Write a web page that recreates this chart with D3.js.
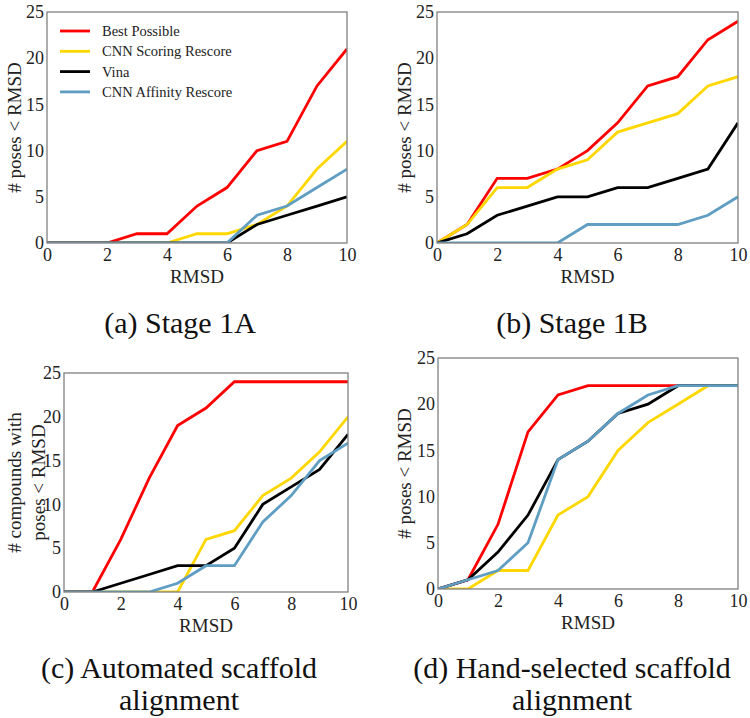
<!DOCTYPE html>
<html><head><meta charset="utf-8">
<script src="https://cdn.jsdelivr.net/npm/d3@7"></script>
<style>body{margin:0;background:#fff;font-family:'Liberation Serif',serif}svg{display:block}svg text{font-family:'Liberation Serif',serif !important}</style>
</head><body>
<svg id="c" width="750" height="718" font-family="Liberation Serif"></svg>
<script>
const rmsd = [0,1,2,3,4,5,6,7,8,9,10];
const seriesNames = ["Best Possible","CNN Scoring Rescore","Vina","CNN Affinity Rescore"];
const seriesColors = ["#ff0000","#ffd700","#000000","#5f9ec2"];
const xTicks = [0,2,4,6,8,10];
const yTicks = [0,5,10,15,20,25];

// Panel (a) Stage 1A
const a_best     = [0,0,0,1,1,4,6,10,11,17,21];
const a_scoring  = [0,0,0,0,0,1,1,2,4,8,11];
const a_vina     = [0,0,0,0,0,0,0,2,3,4,5];
const a_affinity = [0,0,0,0,0,0,0,3,4,6,8];
// Panel (b) Stage 1B
const b_best     = [0,2,7,7,8,10,13,17,18,22,24];
const b_scoring  = [0,2,6,6,8,9,12,13,14,17,18];
const b_vina     = [0,1,3,4,5,5,6,6,7,8,13];
const b_affinity = [0,0,0,0,0,2,2,2,2,3,5];
// Panel (c) Automated scaffold alignment
const c_best     = [0,0,6,13,19,21,24,24,24,24,24];
const c_scoring  = [0,0,0,0,0,6,7,11,13,16,20];
const c_vina     = [0,0,1,2,3,3,5,10,12,14,18];
const c_affinity = [0,0,0,0,1,3,3,8,11,15,17];
// Panel (d) Hand-selected scaffold alignment
const d_best     = [0,1,7,17,21,22,22,22,22,22,22];
const d_scoring  = [0,0,2,2,8,10,15,18,20,22,22];
const d_vina     = [0,1,4,8,14,16,19,20,22,22,22];
const d_affinity = [0,1,2,5,14,16,19,21,22,22,22];

const FONT = "Liberation Serif";

const panels = [
  {box:[47,12,347,243], series:[a_best,a_scoring,a_vina,a_affinity], ylab:["# poses < RMSD"], ylabX:[14], legend:true,
   caption:["(a) Stage 1A"], capX:180, capY:[333]},
  {box:[437,12,738,243], series:[b_best,b_scoring,b_vina,b_affinity], ylab:["# poses < RMSD"], ylabX:[404], legend:false,
   caption:["(b) Stage 1B"], capX:572, capY:[333]},
  {box:[64,373,348,592], series:[c_best,c_scoring,c_vina,c_affinity], ylab:["# compounds with","poses < RMSD"], ylabX:[14,38], legend:false,
   caption:["(c) Automated scaffold","alignment"], capX:179, capY:[678,710]},
  {box:[438,358,738,589], series:[d_best,d_scoring,d_vina,d_affinity], ylab:["# poses < RMSD"], ylabX:[404], legend:false,
   caption:["(d) Hand-selected scaffold","alignment"], capX:572, capY:[678,710]}
];

const svg = d3.select("#c");
panels.forEach(p => {
  const [x0,y0,x1,y1] = p.box;
  const x = d3.scaleLinear().domain([0,10]).range([x0,x1]);
  const y = d3.scaleLinear().domain([0,25]).range([y1,y0]);
  const g = svg.append("g");
  const clipId = "clip"+x0+"_"+y0;
  g.append("clipPath").attr("id",clipId).append("rect").attr("x",x0).attr("y",y0-2).attr("width",x1-x0).attr("height",y1-y0+2);
  const line = d3.line().x((d,i)=>x(rmsd[i])).y(d=>y(d));
  p.series.forEach((s,k)=>{
    g.append("path").datum(s).attr("d",line).attr("fill","none")
      .attr("stroke",seriesColors[k]).attr("stroke-width",2.8).attr("stroke-linejoin","miter")
      .attr("clip-path","url(#"+clipId+")");
  });
  g.append("rect").attr("x",x0).attr("y",y0).attr("width",x1-x0).attr("height",y1-y0)
    .attr("fill","none").attr("stroke","#808080").attr("stroke-width",1.3);
  const xa = g.append("g").attr("transform",`translate(0,${y1})`)
    .call(d3.axisBottom(x).tickValues(xTicks).tickSize(0).tickPadding(5).tickFormat(d3.format("d")));
  const ya = g.append("g").attr("transform",`translate(${x0},0)`)
    .call(d3.axisLeft(y).tickValues(yTicks).tickSize(0).tickPadding(3).tickFormat(d3.format("d")));
  [xa,ya].forEach(a=>{
    a.attr("font-family",FONT).attr("font-size",18);
    a.select(".domain").remove();
    a.selectAll("text").attr("font-family",FONT).attr("font-size",18).attr("fill","#222");
  });
  ya.selectAll("text").attr("dy","0.32em");
  g.append("text").attr("x",(x0+x1)/2).attr("y",y1+40).attr("text-anchor","middle")
    .attr("font-family",FONT).attr("font-size",19).attr("fill","#222").text("RMSD");
  const ymid=(y0+y1)/2;
  p.ylab.forEach((t,i)=>{
    g.append("text").attr("transform",`translate(${p.ylabX[i]},${ymid}) rotate(-90)`)
      .attr("text-anchor","middle").attr("dy","0.35em")
      .attr("font-family",FONT).attr("font-size",19).attr("fill","#222").text(t);
  });
  p.caption.forEach((t,i)=>{
    svg.append("text").attr("x",p.capX).attr("y",p.capY[i]).attr("text-anchor","middle")
      .attr("font-family",FONT).attr("font-size",30).attr("fill","#111").text(t);
  });
  if(p.legend){
    const lg = g.append("g");
    seriesNames.forEach((n,k)=>{
      const ly = 31 + k*20.3;
      lg.append("line").attr("x1",60).attr("x2",90).attr("y1",ly).attr("y2",ly).attr("stroke",seriesColors[k]).attr("stroke-width",2.8);
      lg.append("text").attr("x",102).attr("y",ly).attr("dy","0.35em")
        .attr("font-family",FONT).attr("font-size",14.5).attr("fill","#222").text(n);
    });
  }
});
</script>
</body></html>
